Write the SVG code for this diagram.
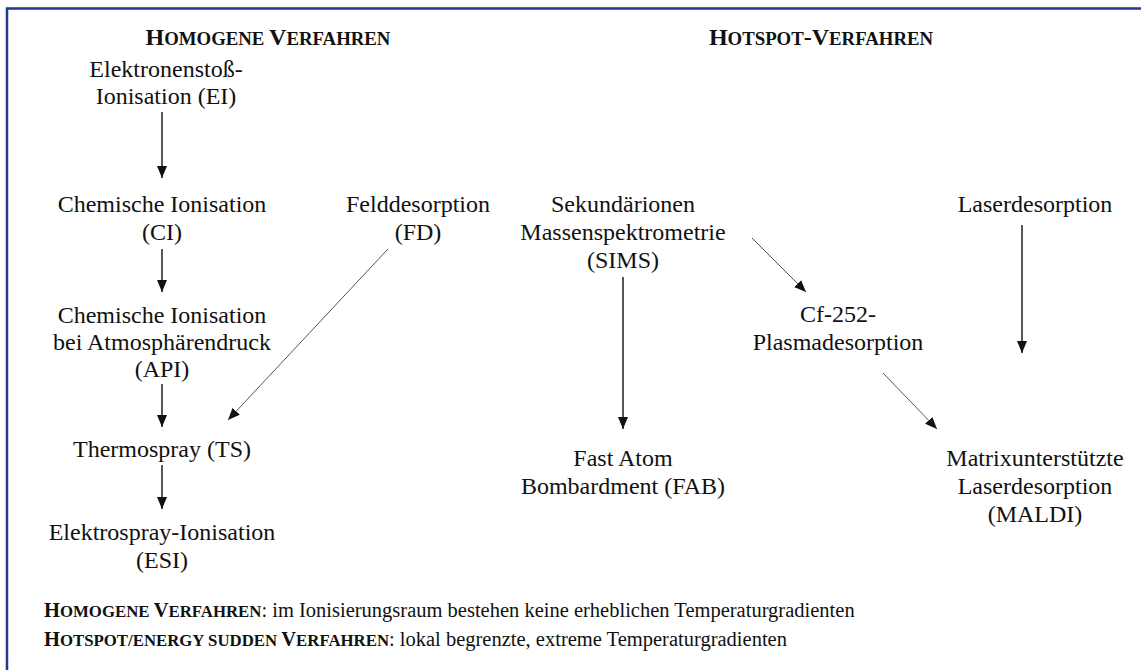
<svg xmlns="http://www.w3.org/2000/svg" width="1141" height="670" viewBox="0 0 1141 670">
<style>
.t{font-family:"Liberation Serif","Times New Roman",serif;font-size:24px;fill:#111;text-anchor:middle}
.h{font-family:"Liberation Serif","Times New Roman",serif;font-weight:bold;fill:#111;text-anchor:middle}
.f{font-family:"Liberation Serif","Times New Roman",serif;font-size:20.5px;fill:#111}
.fb{font-weight:bold}
.big{font-size:24px}
.sm{font-size:18.8px}
.fbig{font-size:20.5px}
.fsm{font-size:16.8px}
.c{stroke:#111;stroke-width:1.4;fill:none}
.d{stroke:#555;stroke-width:1;fill:none}
</style>
<defs>
<marker id="ah" markerUnits="userSpaceOnUse" markerWidth="12" markerHeight="10" refX="12" refY="5" orient="auto">
<path d="M0,0 L12,5 L0,10 z" fill="#111"/>
</marker>
</defs>
<rect width="1141" height="670" fill="#fff"/>
<path d="M7,670 V8.5 H1141" stroke="#1f3b8c" stroke-width="2.5" fill="none"/>

<g id="header-homogen"><text class="h" x="268" y="45"><tspan class="big">H</tspan><tspan class="sm">OMOGENE </tspan><tspan class="big">V</tspan><tspan class="sm">ERFAHREN</tspan></text></g>
<g id="header-hotspot"><text class="h" x="821" y="45"><tspan class="big">H</tspan><tspan class="sm">OTSPOT</tspan><tspan class="big">-V</tspan><tspan class="sm">ERFAHREN</tspan></text></g>

<g id="n-ei"><text class="t" x="166" y="77">Elektronenstoß-</text><text class="t" x="166" y="104">Ionisation (EI)</text></g>
<g id="n-ci"><text class="t" x="162" y="212">Chemische Ionisation</text><text class="t" x="162" y="240">(CI)</text></g>
<g id="n-api"><text class="t" x="162" y="323">Chemische Ionisation</text><text class="t" x="162" y="350">bei Atmosphärendruck</text><text class="t" x="162" y="377">(API)</text></g>
<g id="n-ts"><text class="t" x="162" y="457">Thermospray (TS)</text></g>
<g id="n-esi"><text class="t" x="162" y="540">Elektrospray-Ionisation</text><text class="t" x="162" y="568">(ESI)</text></g>
<g id="n-fd"><text class="t" x="418" y="212">Felddesorption</text><text class="t" x="418" y="240">(FD)</text></g>
<g id="n-sims"><text class="t" x="623" y="212">Sekundärionen</text><text class="t" x="623" y="240">Massenspektrometrie</text><text class="t" x="623" y="268">(SIMS)</text></g>
<g id="n-laser"><text class="t" x="1035" y="212">Laserdesorption</text></g>
<g id="n-cf"><text class="t" x="838" y="322">Cf-252-</text><text class="t" x="838" y="350">Plasmadesorption</text></g>
<g id="n-fab"><text class="t" x="623" y="466">Fast Atom</text><text class="t" x="623" y="494">Bombardment (FAB)</text></g>
<g id="n-maldi"><text class="t" x="1035" y="466">Matrixunterstützte</text><text class="t" x="1035" y="494">Laserdesorption</text><text class="t" x="1035" y="522">(MALDI)</text></g>

<g id="connectors">
<line class="c" x1="162" y1="112" x2="162" y2="178" marker-end="url(#ah)"/>
<line class="c" x1="162" y1="249" x2="162" y2="292" marker-end="url(#ah)"/>
<line class="c" x1="162" y1="384" x2="162" y2="427" marker-end="url(#ah)"/>
<line class="c" x1="162" y1="465" x2="162" y2="509" marker-end="url(#ah)"/>
<line class="d" x1="388" y1="249" x2="228" y2="420" marker-end="url(#ah)"/>
<line class="c" x1="623" y1="277" x2="623" y2="429" marker-end="url(#ah)"/>
<line class="c" x1="1022" y1="225" x2="1022" y2="353" marker-end="url(#ah)"/>
<line class="d" x1="752" y1="238" x2="806" y2="292" marker-end="url(#ah)"/>
<line class="d" x1="883" y1="373" x2="937" y2="429" marker-end="url(#ah)"/>
</g>

<g id="legend">
<text class="f" x="44" y="617"><tspan class="fb fbig">H</tspan><tspan class="fb fsm">OMOGENE </tspan><tspan class="fb fbig">V</tspan><tspan class="fb fsm">ERFAHREN</tspan>: im Ionisierungsraum bestehen keine erheblichen Temperaturgradienten</text>
<text class="f" x="44" y="646"><tspan class="fb fbig">H</tspan><tspan class="fb fsm">OTSPOT/ENERGY SUDDEN </tspan><tspan class="fb fbig">V</tspan><tspan class="fb fsm">ERFAHREN</tspan>: lokal begrenzte, extreme Temperaturgradienten</text>
</g>
</svg>
